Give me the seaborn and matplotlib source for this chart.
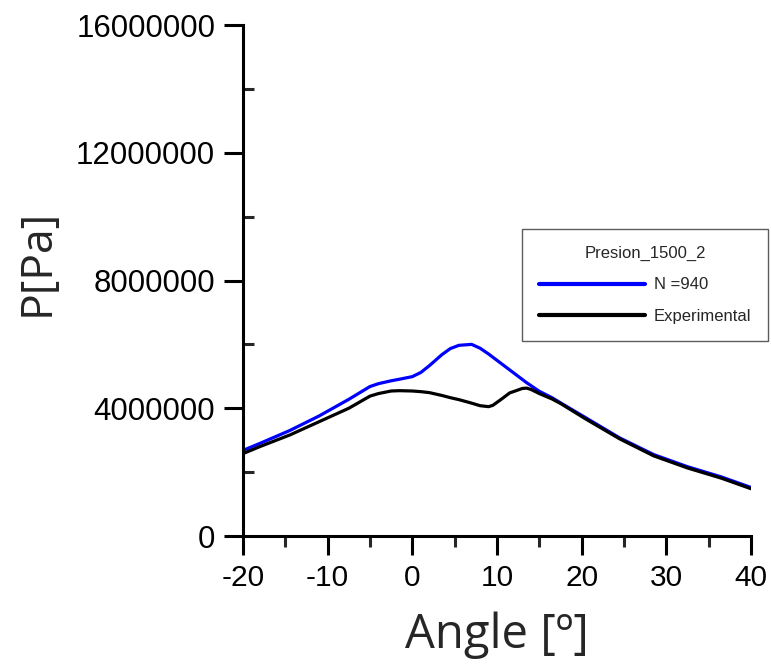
import matplotlib
matplotlib.use("Agg")
import matplotlib.pyplot as plt
from matplotlib.ticker import MultipleLocator
import seaborn as sns
import pandas as pd

# Pressure vs crank angle: simulation (N = 940) and experimental trace
angle = [-20, -18, -14.5, -11, -7.5, -5, -4, -2.5, -1.5, 0, 1, 2, 3.5, 4.5,
         5.5, 7, 8, 9, 9.5, 10.5, 11.5, 13, 13.5, 14, 15, 16.5, 17.5, 20.5,
         24.5, 28.5, 32.5, 36.5, 40]
p_sim = [2.68e6, 2.90e6, 3.30e6, 3.76e6, 4.28e6, 4.68e6, 4.77e6, 4.86e6,
         4.91e6, 4.99e6, 5.12e6, 5.33e6, 5.68e6, 5.87e6, 5.97e6, 6.00e6,
         5.88e6, 5.70e6, 5.60e6, 5.40e6, 5.20e6, 4.90e6, 4.80e6, 4.71e6,
         4.53e6, 4.33e6, 4.17e6, 3.70e6, 3.07e6, 2.55e6, 2.17e6, 1.85e6, 1.52e6]
p_exp = [2.58e6, 2.80e6, 3.16e6, 3.58e6, 4.00e6, 4.38e6, 4.46e6, 4.54e6,
         4.55e6, 4.54e6, 4.52e6, 4.49e6, 4.40e6, 4.33e6, 4.27e6, 4.16e6,
         4.08e6, 4.05e6, 4.09e6, 4.28e6, 4.48e6, 4.62e6, 4.63e6, 4.59e6,
         4.46e6, 4.29e6, 4.15e6, 3.66e6, 3.04e6, 2.51e6, 2.13e6, 1.81e6, 1.48e6]

series_names = ["N =940", "Experimental"]
series_colors = ["#0000ff", "#000000"]
legend_title = "Presion_1500_2"

x_ticks = [-20, -10, 0, 10, 20, 30, 40]
y_ticks = [0, 4000000, 8000000, 12000000, 16000000]
y_tick_labels = ["0", "4000000", "8000000", "12000000", "16000000"]

df = pd.concat([
    pd.DataFrame({"Angle": angle, "P": p_sim, "Serie": series_names[0]}),
    pd.DataFrame({"Angle": angle, "P": p_exp, "Serie": series_names[1]}),
])

sns.set_theme(style="white")
plt.rcParams["font.family"] = ["Liberation Sans", "DejaVu Sans"]

fig = plt.figure(figsize=(7.71, 6.67), dpi=100)
ax = fig.add_axes([243 / 771, 1 - 536 / 667, (751 - 243) / 771, (536 - 25) / 667])

sns.lineplot(data=df, x="Angle", y="P", hue="Serie", hue_order=series_names,
             palette=series_colors, linewidth=2.3, ax=ax, sort=True,
             estimator=None, legend=True)
for ln in ax.lines:
    ln.set_solid_capstyle("round")
    ln.set_solid_joinstyle("round")

ax.set_xlim(-20, 40)
ax.set_ylim(0, 16000000)
ax.set_xticks(x_ticks)
ax.set_xticklabels([str(t) for t in x_ticks])
ax.set_yticks(y_ticks)
ax.set_yticklabels(y_tick_labels)
ax.xaxis.set_minor_locator(MultipleLocator(5))
ax.yaxis.set_minor_locator(MultipleLocator(2000000))

for side in ["top", "right"]:
    ax.spines[side].set_visible(False)
for side in ["left", "bottom"]:
    ax.spines[side].set_linewidth(2.2)
    ax.spines[side].set_color("black")

ax.tick_params(axis="x", which="major", direction="out", length=14, width=2.2,
               labelsize=21.5, pad=6, colors="black", bottom=True)
ax.tick_params(axis="x", which="minor", direction="out", length=8, width=2.2,
               bottom=True)
ax.tick_params(axis="y", which="major", direction="out", length=14, width=2.2,
               labelsize=22.5, pad=6, colors="black", left=True)
ax.tick_params(axis="y", which="minor", direction="in", length=8, width=2.2,
               left=True)
ax.grid(False)

ax.set_xlabel("Angle [º]", fontsize=34, family=["Open Sans", "DejaVu Sans"],
              labelpad=14)
ax.set_ylabel("P[Pa]", fontsize=32, family=["Open Sans", "DejaVu Sans"])
ax.yaxis.set_label_coords(-0.36, 0.536)

leg = ax.legend(title=legend_title, loc="upper left",
                bbox_to_anchor=(522 / 771, 1 - 229 / 667),
                bbox_transform=fig.transFigure, borderaxespad=0,
                frameon=True, fancybox=False, edgecolor="#333333",
                fontsize=12, title_fontsize=12, handlelength=6.4,
                handletextpad=0.5, labelspacing=1.0, borderpad=1.0)
leg.get_frame().set_linewidth(1.0)
for t in leg.get_texts() + [leg.get_title()]:
    t.set_family(["Liberation Sans Narrow", "Liberation Sans", "DejaVu Sans"])
for h in leg.get_lines():
    h.set_linewidth(3)

fig.savefig("out.png", dpi=100)
